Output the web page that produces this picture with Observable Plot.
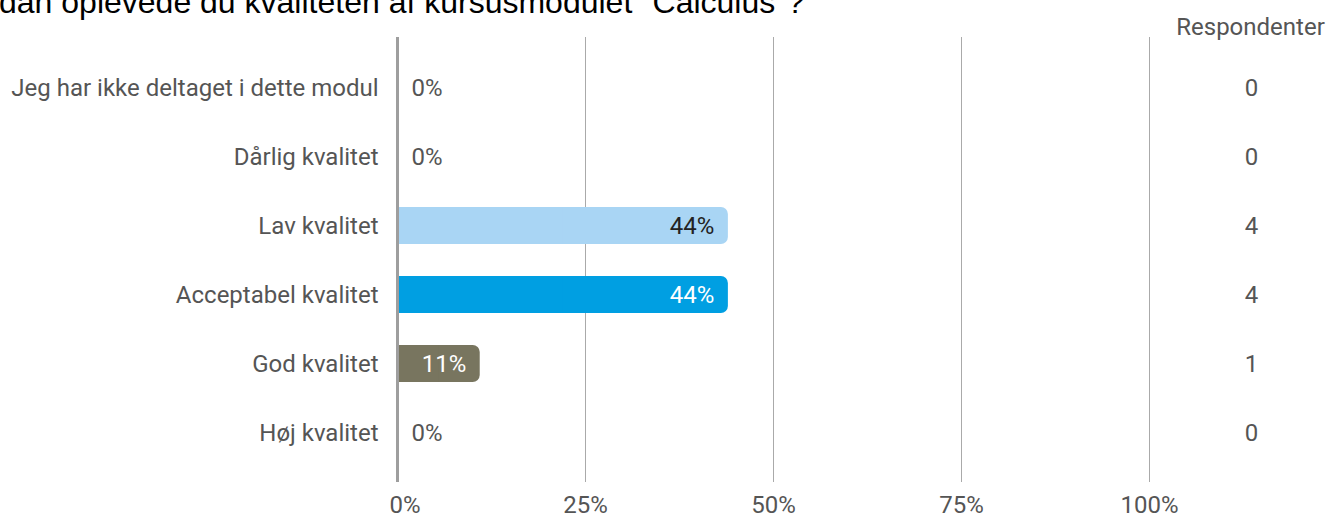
<!DOCTYPE html>
<html>
<head>
<meta charset="utf-8">
<script src="https://cdn.jsdelivr.net/npm/d3@7"></script>
<script src="https://cdn.jsdelivr.net/npm/@observablehq/plot@0.6"></script>
<style>
  html, body { margin: 0; padding: 0; background: #fff; overflow: hidden; }
  #wrap { position: relative; width: 1329px; height: 519px; overflow: hidden; }
  #title { position: absolute; top: -16px; left: 0; white-space: nowrap; line-height: 36px;
           font-family: "Liberation Sans", Arial, sans-serif; font-size: 32px; color: #000; }
  #chart { position: absolute; top: 0; left: 0; }
</style>
</head>
<body>
<div id="wrap">
  <div id="chart"></div>
  <div id="title"><span id="hidden">Hvor</span>dan oplevede du kvaliteten af kursusmodulet "Calculus"?</div>
</div>
<script>
const categories = ["Jeg har ikke deltaget i dette modul", "Dårlig kvalitet", "Lav kvalitet", "Acceptabel kvalitet", "God kvalitet", "Høj kvalitet"];
const shares = [0, 0, 0.44, 0.44, 0.11, 0];
const shareLabels = ["0%", "0%", "44%", "44%", "11%", "0%"];
const counts = [0, 0, 4, 4, 1, 0];
const barColors = ["#cccccc", "#888888", "#a9d5f4", "#009fe2", "#78755f", "#555555"];
const labelColors = ["#555555", "#555555", "#222222", "#ffffff", "#ffffff", "#555555"];
const tickValues = [0, 0.25, 0.5, 0.75, 1];
const tickLabels = ["0%", "25%", "50%", "75%", "100%"];

const data = categories.map((c, i) => ({cat: c, v: shares[i], label: shareLabels[i], n: counts[i], lc: labelColors[i]}));

// shift title so the first part falls off the left edge, as in the reference
const hid = document.getElementById("hidden");
document.getElementById("title").style.left = (-hid.getBoundingClientRect().width - 1) + "px";

const font = {fontFamily: "Roboto", fontSize: "24px", fontWeight: 400};

const chart = Plot.plot({
  width: 1329,
  height: 519,
  marginLeft: 397,
  marginRight: 180,
  marginTop: 37,
  marginBottom: 37,
  style: {fontFamily: "Roboto", fontSize: "24px", background: "transparent"},
  x: {domain: [0, 1], axis: null},
  y: {domain: categories, paddingInner: 0, paddingOuter: 0.2246, axis: null},
  color: {domain: categories, range: barColors},
  marks: [
    Plot.ruleX(tickValues.slice(1), {stroke: "#aaaaaa", strokeWidth: 1}),
    Plot.barX(data.filter(d => d.v > 0), {x1: 0, x2: "v", y: "cat", fill: "cat", rx: 7, insetTop: 16, insetBottom: 16}),
    Plot.barX(data.filter(d => d.v > 0), {x1: 0, x2: d => d.v / 2, y: "cat", fill: "cat", insetTop: 16, insetBottom: 16}),
    Plot.ruleX([0], {stroke: "#9e9e9e", strokeWidth: 3}),
    ...[...new Set(labelColors)].map(col =>
      Plot.text(data.filter(d => d.v > 0 && d.lc === col), {x: "v", y: "cat", text: "label", textAnchor: "end", dx: -14, fill: col, ...font})
    ),
    Plot.text(data.filter(d => d.v === 0), {x: 0, y: "cat", text: "label", textAnchor: "start", dx: 14, fill: "#555555", ...font}),
    Plot.text(data, {x: 0, y: "cat", text: "cat", textAnchor: "end", dx: -19, fill: "#555555", ...font}),
    Plot.text(data, {y: "cat", text: d => String(d.n), frameAnchor: "right", textAnchor: "middle", dx: 102, fill: "#555555", ...font}),
    Plot.text(["Respondenter"], {frameAnchor: "top-right", textAnchor: "middle", lineAnchor: "middle", dx: 101, dy: -10, fill: "#555555", ...font}),
    Plot.text([tickValues[0]], {x: d => d, text: [tickLabels[0]], frameAnchor: "bottom", textAnchor: "start", lineAnchor: "middle", dx: -8, dy: 23, fill: "#555555", ...font}),
    Plot.text(tickValues.slice(1), {x: d => d, text: tickLabels.slice(1), frameAnchor: "bottom", textAnchor: "middle", lineAnchor: "middle", dy: 23, fill: "#555555", ...font})
  ]
});
document.getElementById("chart").appendChild(chart);
</script>
</body>
</html>
